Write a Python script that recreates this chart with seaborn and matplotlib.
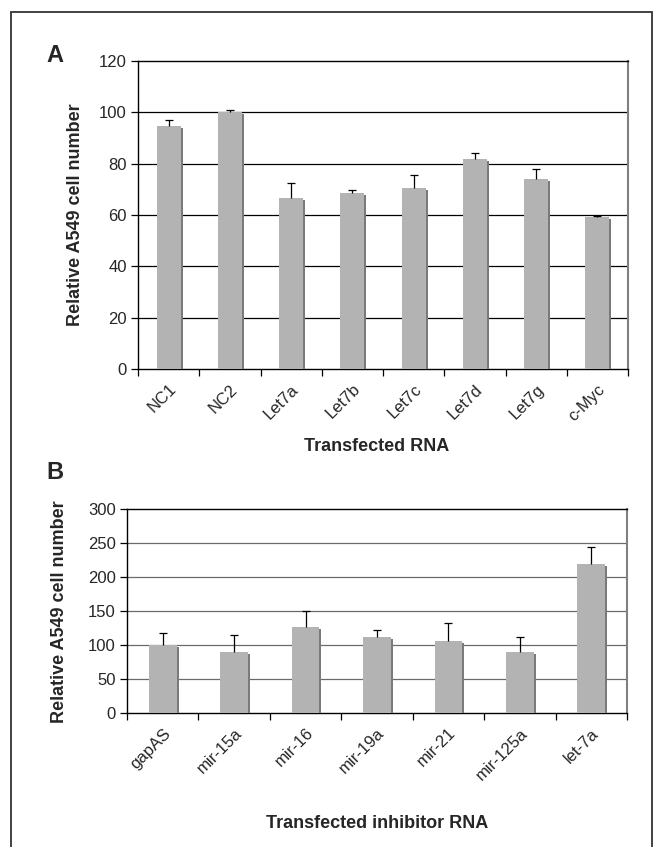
import matplotlib
matplotlib.use("Agg")
import matplotlib.pyplot as plt
import matplotlib.patheffects as pe
from matplotlib.patches import Rectangle
import seaborn as sns
import pandas as pd
import numpy as np

# Panel A data
cats_a = ["NC1", "NC2", "Let7a", "Let7b", "Let7c", "Let7d", "Let7g", "c-Myc"]
vals_a = [94.5, 100.0, 66.5, 68.4, 70.4, 81.8, 73.9, 59.2]
errtop_a = [97.2, 101.0, 72.3, 69.8, 75.5, 84.0, 78.1, 59.6]

# Panel B data
cats_b = ["gapAS", "mir-15a", "mir-16", "mir-19a", "mir-21", "mir-125a", "let-7a"]
vals_b = [100.5, 89.7, 126.0, 111.3, 105.4, 89.7, 219.7]
errtop_b = [118.0, 114.3, 149.7, 122.7, 133.0, 111.8, 244.0]

ticks_a = [0, 20, 40, 60, 80, 100, 120]
ticks_b = [0, 50, 100, 150, 200, 250, 300]

sns.set_theme(style="white")
plt.rcParams["font.family"] = ["Liberation Sans", "DejaVu Sans"]

W, H = 660, 847
fig = plt.figure(figsize=(W / 100, H / 100), dpi=100)

def fx(px):
    return px / W

def fy(py):
    return 1 - py / H

ax_a = fig.add_axes([fx(138), fy(369), fx(628) - fx(138), (369 - 61) / H])
ax_b = fig.add_axes([fx(127), fy(713), fx(627) - fx(127), (713 - 509) / H])

def draw(ax, cats, vals, errtop, ticks, gridcolor):
    df = pd.DataFrame({"cat": cats, "val": vals})
    sns.barplot(data=df, x="cat", y="val", ax=ax, color="#b3b3b3",
                width=0.39, saturation=1, edgecolor="none", linewidth=0, zorder=3)
    for p in ax.patches:
        p.set_path_effects([pe.SimplePatchShadow(offset=(1.4, -1.4),
                                                 shadow_rgbFace="#7a7a7a", alpha=1.0),
                            pe.Normal()])
    x = np.arange(len(cats))
    ax.vlines(x, vals, errtop, color="black", lw=0.9, zorder=4)
    ax.scatter(x, errtop, marker="_", s=30, color="black", linewidths=0.9, zorder=4)
    ax.set_ylim(ticks[0], ticks[-1])
    ax.set_xlim(-0.5, len(cats) - 0.5)
    ax.set_yticks(ticks)
    ax.set_yticklabels([str(t) for t in ticks], fontsize=12)
    for t in ticks[1:-1]:
        ax.axhline(t, color=gridcolor, lw=0.9, zorder=1)
    ax.set_xticks(x)
    ax.set_xticklabels(cats, rotation=45, ha="right", rotation_mode="anchor", fontsize=12)
    ax.set_xticks(np.arange(len(cats) + 1) - 0.5, minor=True)
    ax.tick_params(axis="x", which="major", length=0, pad=9)
    ax.tick_params(axis="x", which="minor", length=5, width=0.9, color="black", direction="out", bottom=True)
    ax.tick_params(axis="y", length=5, width=0.9, color="black", direction="out", left=True, pad=3)
    ax.set_xlabel("")
    ax.set_ylabel("")
    for s in ["left", "bottom", "top"]:
        ax.spines[s].set_color("black")
        ax.spines[s].set_linewidth(1.0)
    ax.spines["right"].set_color("#808080")
    ax.spines["right"].set_linewidth(1.5)
    ax.set_facecolor("white")

draw(ax_a, cats_a, vals_a, errtop_a, ticks_a, "black")
draw(ax_b, cats_b, vals_b, errtop_b, ticks_b, "#6a6a6a")

fig.text(fx(76), fy(215), "Relative A549 cell number", rotation=90, ha="center",
         va="center", fontsize=13, fontweight="bold")
fig.text(fx(59), fy(612), "Relative A549 cell number", rotation=90, ha="center",
         va="center", fontsize=13, fontweight="bold")
fig.text(fx(377), fy(446), "Transfected RNA", ha="center", va="center",
         fontsize=13, fontweight="bold")
fig.text(fx(377), fy(823), "Transfected inhibitor RNA", ha="center", va="center",
         fontsize=13, fontweight="bold")
fig.text(fx(55), fy(56), "A", ha="center", va="center", fontsize=17, fontweight="bold")
fig.text(fx(55), fy(472), "B", ha="center", va="center", fontsize=17, fontweight="bold")

frame = Rectangle((fx(11), fy(870)), fx(652) - fx(11), (870 - 12) / H,
                  transform=fig.transFigure, fill=False, edgecolor="#333333",
                  linewidth=1.3, clip_on=False)
fig.patches.append(frame)

fig.savefig("out.png", dpi=100, facecolor="white")
